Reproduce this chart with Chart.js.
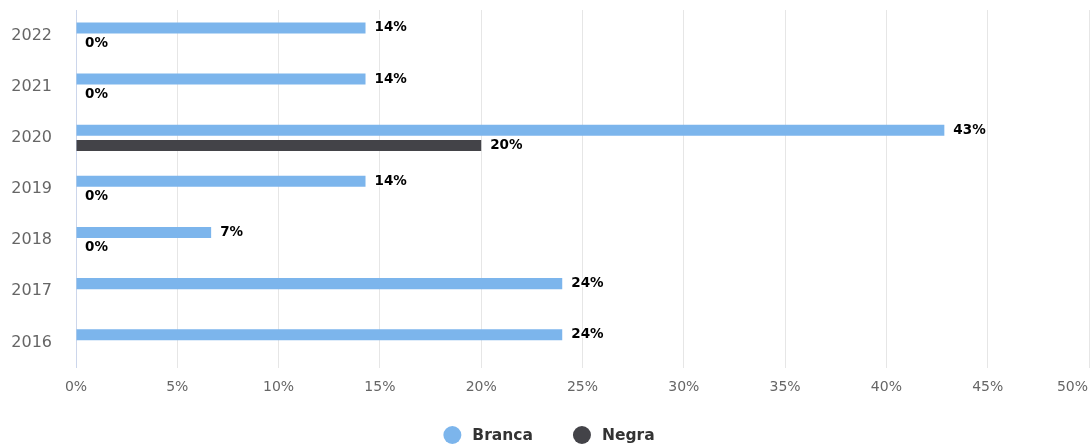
<!DOCTYPE html>
<html>
<head>
<meta charset="utf-8">
<script src="https://cdn.jsdelivr.net/npm/chart.js@4"></script>
<style>
  html, body { margin: 0; padding: 0; background: #fff; }
  #wrap { width: 1092px; height: 446px; position: relative; }
</style>
</head>
<body>
<div id="wrap"><canvas id="chart"></canvas></div>
<script>
// dados
const years = ['2022', '2021', '2020', '2019', '2018', '2017', '2016'];
const branca = [14.29, 14.29, 42.86, 14.29, 6.67, 24, 24];
const negra = [0, 0, 20, 0, 0, null, null];
const xTicks = [0, 5, 10, 15, 20, 25, 30, 35, 40, 45, 50];

const FONT = '"DejaVu Sans", sans-serif';
const X_MAX = xTicks[xTicks.length - 1];

// rótulos no fim de cada barra
const barLabels = {
  id: 'barLabels',
  afterDatasetsDraw(chart) {
    const ctx = chart.ctx;
    ctx.save();
    ctx.font = 'bold 13.5px ' + FONT;
    ctx.textBaseline = 'middle';
    ctx.textAlign = 'left';
    ctx.lineJoin = 'round';
    chart.data.datasets.forEach((ds, i) => {
      chart.getDatasetMeta(i).data.forEach((bar, j) => {
        const v = ds.data[j];
        if (v === null || v === undefined) return;
        const t = Math.round(v) + '%';
        const x = bar.x + 9;
        ctx.lineWidth = 3;
        ctx.strokeStyle = '#fff';
        ctx.strokeText(t, x, bar.y);
        ctx.fillStyle = '#000';
        ctx.fillText(t, x, bar.y);
      });
    });
    ctx.restore();
  }
};

// último rótulo do eixo x encostado à direita (como no Highcharts)
const lastTick = {
  id: 'lastTick',
  afterDraw(chart) {
    const sx = chart.scales.x;
    const ctx = chart.ctx;
    ctx.save();
    ctx.font = '14px ' + FONT;
    ctx.fillStyle = '#666666';
    ctx.textAlign = 'right';
    ctx.textBaseline = 'middle';
    const x = Math.min(sx.getPixelForValue(X_MAX) + 15, chart.width - 4);
    ctx.fillText(X_MAX + '%', x, sx.top + 11 + 8);
    ctx.restore();
  }
};

// legenda embaixo, com círculos
const bottomLegend = {
  id: 'bottomLegend',
  afterDraw(chart) {
    const ctx = chart.ctx;
    const r = 9, gap = 11, itemGap = 40, y = 435;
    ctx.save();
    ctx.font = 'bold 15.5px ' + FONT;
    ctx.textBaseline = 'middle';
    ctx.textAlign = 'left';
    const items = chart.data.datasets.map(ds => ({
      text: ds.label,
      color: ds.backgroundColor,
      w: 2 * r + gap + ctx.measureText(ds.label).width,
    }));
    const total = items.reduce((s, it) => s + it.w, 0) + itemGap * (items.length - 1);
    let x = chart.width / 2 + 3 - total / 2;
    items.forEach(it => {
      ctx.fillStyle = it.color;
      ctx.beginPath();
      ctx.arc(x + r, y, r, 0, Math.PI * 2);
      ctx.fill();
      ctx.fillStyle = '#333333';
      ctx.fillText(it.text, x + 2 * r + gap, y + 1);
      x += it.w + itemGap;
    });
    ctx.restore();
  }
};

new Chart(document.getElementById('chart'), {
  type: 'bar',
  data: {
    labels: years,
    datasets: [
      {
        label: 'Branca',
        data: branca,
        backgroundColor: '#7cb5ec',
        categoryPercentage: 0.6,
        barPercentage: 0.72,
      },
      {
        label: 'Negra',
        data: negra,
        backgroundColor: '#434348',
        categoryPercentage: 0.6,
        barPercentage: 0.72,
      },
    ],
  },
  options: {
    indexAxis: 'y',
    responsive: true,
    maintainAspectRatio: false,
    animation: false,
    layout: { padding: { left: 0, right: 3, top: 10, bottom: 46 } },
    scales: {
      x: {
        min: 0,
        max: X_MAX,
        afterBuildTicks: (scale) => { scale.ticks = xTicks.map(v => ({ value: v })); },
        afterFit: (scale) => {
          scale.height = 32;
          scale.paddingRight = 0;
        },
        grid: {
          drawTicks: false,
          color: (c) => (c.index === 0 ? '#ccd6eb' : '#e6e6e6'),
          lineWidth: 1,
        },
        border: { display: false },
        ticks: {
          padding: 11,
          color: '#666666',
          font: { family: FONT, size: 14 },
          callback: (v) => (v === X_MAX ? '' : v + '%'),
        },
      },
      y: {
        afterFit: (scale) => {
          scale.width = 76;
          scale.paddingTop = 0;
          scale.paddingBottom = 0;
        },
        grid: { display: false, drawTicks: false },
        border: { display: false },
        ticks: {
          padding: 24,
          color: '#666666',
          font: { family: FONT, size: 16 },
        },
      },
    },
    plugins: {
      tooltip: { enabled: false },
      legend: { display: false },
    },
  },
  plugins: [barLabels, lastTick, bottomLegend],
});
</script>
</body>
</html>
